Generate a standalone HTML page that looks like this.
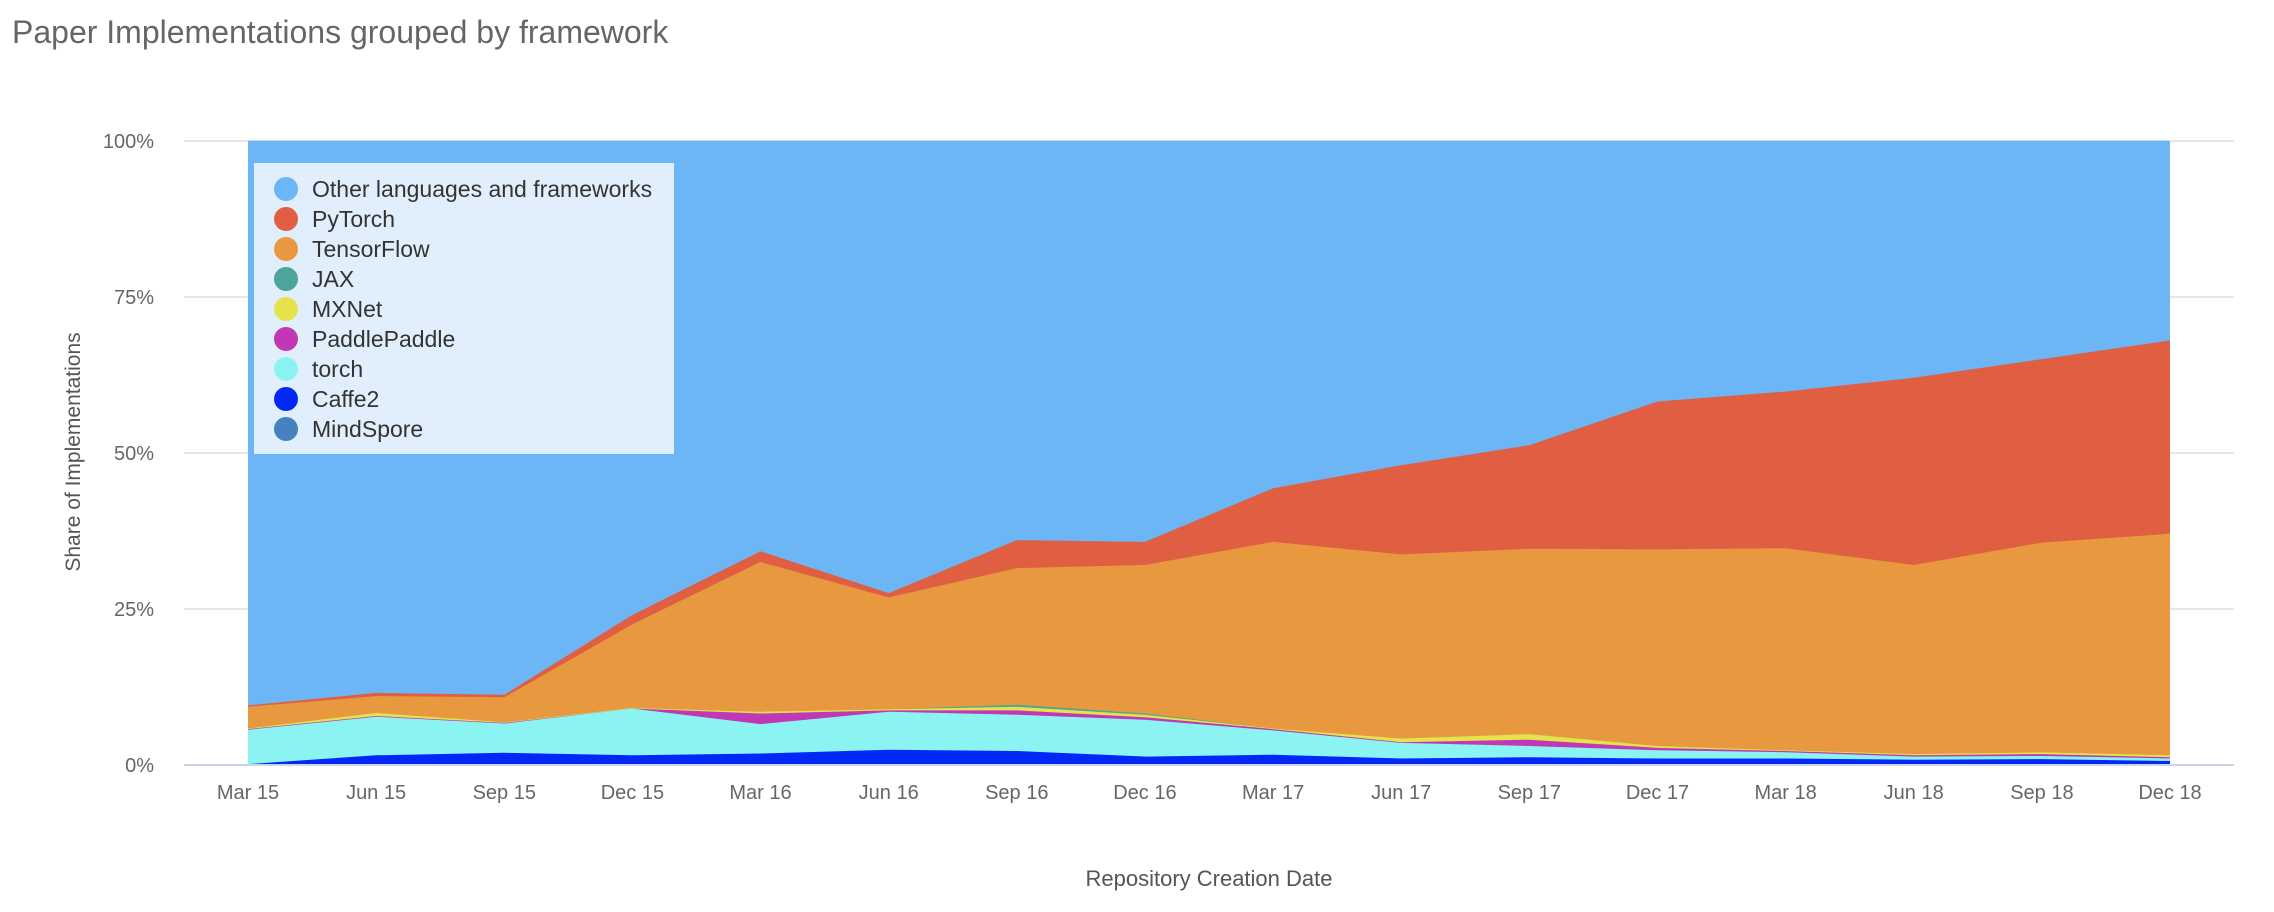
<!DOCTYPE html>
<html><head><meta charset="utf-8"><style>
body{margin:0;width:2274px;height:912px;background:#fff;overflow:hidden;font-family:"Liberation Sans",sans-serif;}
</style></head><body>
<svg id="s" width="2274" height="912" xmlns="http://www.w3.org/2000/svg" style="position:absolute;left:0;top:0">
<text x="12" y="43" font-size="32" fill="#666">Paper Implementations grouped by framework</text>
<g stroke="#e6e6e6" stroke-width="2">
<line x1="184" x2="2234" y1="141" y2="141"/>
<line x1="184" x2="2234" y1="297" y2="297"/>
<line x1="184" x2="2234" y1="453" y2="453"/>
<line x1="184" x2="2234" y1="609" y2="609"/>
</g>
<g id="areas"></g>
<line x1="184" x2="2234" y1="765" y2="765" stroke="#ccd6eb" stroke-width="2"/>
<g font-size="20" fill="#666" text-anchor="end">
<text x="154" y="148">100%</text>
<text x="154" y="304">75%</text>
<text x="154" y="460">50%</text>
<text x="154" y="616">25%</text>
<text x="154" y="772">0%</text>
</g>
<g id="xl" font-size="20" fill="#666" text-anchor="middle"></g>
<text transform="translate(80,452) rotate(-90)" font-size="21" fill="#555" text-anchor="middle">Share of Implementations</text>
<text x="1209" y="886" font-size="22" fill="#555" text-anchor="middle">Repository Creation Date</text>
<rect x="254" y="163" width="420" height="291" fill="#e1effc"/>
<g id="lg" font-size="23" fill="#333"></g>
</svg>
<script>
var X=i=>248+i*128.133, Y=v=>764.7-6.24*v;
var tops={
pt:[9.5,11.5,11.2,24,34.2,27.5,36,35.7,44.3,48,51.2,58.2,59.8,62,65,68],
tf:[9.3,11,10.8,22.5,32.5,26.8,31.5,32,35.7,33.7,34.6,34.5,34.7,32,35.6,37],
jax:[5.8,8.3,6.8,9.1,8.5,8.9,9.6,8.2,5.8,4.2,4.9,3,2.3,1.7,2,1.5],
mx:[5.8,8.3,6.8,9.1,8.5,8.9,9.3,8,5.8,4.2,4.9,3,2.3,1.7,2,1.5],
pp:[5.7,7.8,6.7,9,8.2,8.7,8.7,7.6,5.7,3.6,4.0,2.7,2.2,1.5,1.7,1.2],
to:[5.6,7.7,6.6,9,6.5,8.5,8,7.2,5.5,3.5,3.0,2.3,2.0,1.3,1.4,1.0],
cf:[0.1,1.5,1.9,1.5,1.8,2.4,2.2,1.3,1.6,1.0,1.2,1.0,1.0,0.8,0.9,0.6]};
var order=[['other',null,'#6cb6f5'],['pt','pt','#e05f42'],['tf','tf','#e8993f'],['jax','jax','#4ba59a'],['mx','mx','#e5e24b'],['pp','pp','#c038b5'],['to','to','#8cf3f3'],['cf','cf','#0328f6']];
var g=document.getElementById('areas'),h='';
for(var k=0;k<order.length;k++){
 var t=order[k][1]?tops[order[k][1]]:Array(16).fill(100);
 var p='M'+X(0)+','+Y(0);
 for(var i=0;i<16;i++)p+=' L'+X(i).toFixed(1)+','+Y(t[i]).toFixed(1);
 p+=' L'+X(15)+','+Y(0)+'Z';
 h+='<path d="'+p+'" fill="'+order[k][2]+'"/>';
}
g.innerHTML=h;
var lab=['Mar 15','Jun 15','Sep 15','Dec 15','Mar 16','Jun 16','Sep 16','Dec 16','Mar 17','Jun 17','Sep 17','Dec 17','Mar 18','Jun 18','Sep 18','Dec 18'];
var xl='';lab.forEach((l,i)=>xl+='<text x="'+X(i).toFixed(1)+'" y="799">'+l+'</text>');
document.getElementById('xl').innerHTML=xl;
var L=[['Other languages and frameworks','#6cb6f5'],['PyTorch','#e05f42'],['TensorFlow','#e8993f'],['JAX','#4ba59a'],['MXNet','#e5e24b'],['PaddlePaddle','#c038b5'],['torch','#8cf3f3'],['Caffe2','#0328f6'],['MindSpore','#4682c0']];
var lg='';L.forEach((a,i)=>{var y=189+i*30;lg+='<circle cx="286" cy="'+y+'" r="12" fill="'+a[1]+'"/><text x="312" y="'+(y+8)+'">'+a[0]+'</text>';});
document.getElementById('lg').innerHTML=lg;
</script>
</body></html>
